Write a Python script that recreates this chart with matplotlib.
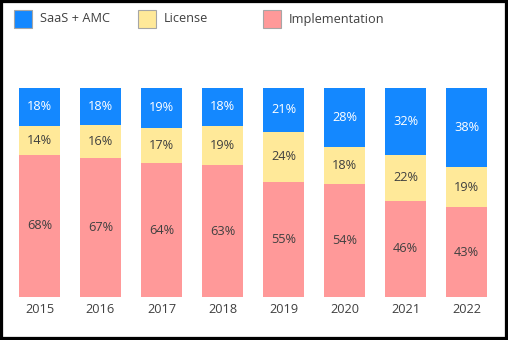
import numpy as np
import matplotlib
matplotlib.use("Agg")
import matplotlib.pyplot as plt
from matplotlib.patches import Rectangle

# data ---------------------------------------------------------------
years = ["2015", "2016", "2017", "2018", "2019", "2020", "2021", "2022"]
implementation = [68, 67, 64, 63, 55, 54, 46, 43]
license_ = [14, 16, 17, 19, 24, 18, 22, 19]
saas_amc = [18, 18, 19, 18, 21, 28, 32, 38]
series_names = ["SaaS + AMC", "License", "Implementation"]
# --------------------------------------------------------------------

c_saas = "#1488FF"
c_lic = "#FFE999"
c_impl = "#FF9999"
txt = "#404040"

plt.rcParams['font.family'] = ['Open Sans', 'DejaVu Sans']

W, H = 508, 340
fig = plt.figure(figsize=(W / 100, H / 100), dpi=100)
ax = fig.add_axes([9 / W, 1 - 297 / H, 488 / W, 209 / H])

impl = np.array(implementation, float)
lic = np.array(license_, float)
saas = np.array(saas_amc, float)
tot = impl + lic + saas
impl_n, lic_n, saas_n = impl / tot * 100, lic / tot * 100, saas / tot * 100

x = np.arange(len(years))
w = 0.67
ax.bar(x, impl_n, w, color=c_impl)
ax.bar(x, lic_n, w, bottom=impl_n, color=c_lic)
ax.bar(x, saas_n, w, bottom=impl_n + lic_n, color=c_saas)

for i in range(len(years)):
    ax.text(x[i], impl_n[i] / 2, "%d%%" % implementation[i],
            ha="center", va="center", fontsize=9.2, color=txt)
    ax.text(x[i], impl_n[i] + lic_n[i] / 2, "%d%%" % license_[i],
            ha="center", va="center", fontsize=9.2, color=txt)
    ax.text(x[i], impl_n[i] + lic_n[i] + saas_n[i] / 2, "%d%%" % saas_amc[i],
            ha="center", va="center", fontsize=9.2, color="white")

ax.set_xlim(-0.5, len(years) - 0.5)
ax.set_ylim(0, 100)
ax.set_xticks(x)
ax.set_xticklabels(years, fontsize=9.2, color=txt)
ax.set_yticks([])
ax.tick_params(axis="x", length=0, pad=4)
for s in ax.spines.values():
    s.set_visible(False)

# legend, laid out like the Excel one (fixed slots)
colors = [c_saas, c_lic, c_impl]
box_x = [14, 138, 263]
for bx, col, name in zip(box_x, colors, series_names):
    fig.patches.append(Rectangle((bx / W, 1 - 28 / H), 18 / W, 18 / H,
                                 transform=fig.transFigure, facecolor=col,
                                 edgecolor="#A6A6A6", linewidth=0.8))
    fig.text((bx + 26) / W, 1 - 19 / H, name, ha="left", va="center",
             fontsize=9.2, color=txt)

# black frame around the picture
fig.patches.append(Rectangle((0, 0), 1, 1, transform=fig.transFigure,
                             fill=False, edgecolor="black", linewidth=4.5,
                             zorder=10))

fig.savefig("out.png", dpi=100)
